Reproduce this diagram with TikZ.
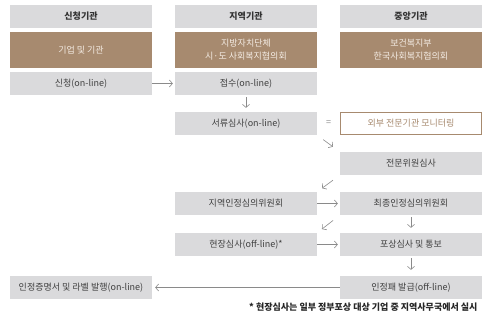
\documentclass[tikz,border=0pt]{standalone}
\usepackage{fontspec}
\setmainfont{Noto Sans CJK KR}
\usepackage{tikz}
\usetikzlibrary{arrows.meta}

\definecolor{boxgray}{HTML}{DADADC}
\definecolor{brownfill}{HTML}{A78A6F}
\definecolor{brownfg}{HTML}{F4ECE4}
\definecolor{textgray}{HTML}{404040}
\definecolor{arrowgray}{HTML}{8A8A8A}

\begin{document}
\begin{tikzpicture}[x=1pt,y=-1pt,
  font=\fontsize{9}{13}\selectfont,
  box/.style={fill=boxgray,minimum width=142pt,minimum height=23pt,inner sep=0pt,text=textgray},
  headbox/.style={box,font=\fontsize{9}{13}\selectfont\bfseries,text=black!80},
  brownbox/.style={fill=brownfill,minimum width=142pt,minimum height=36pt,inner sep=0pt,text=brownfg,align=center},
  outlinebox/.style={draw=brownfill,line width=0.8pt,fill=white,minimum width=141pt,minimum height=22pt,inner sep=0pt,text=brownfill},
  >={Straight Barb[length=3pt,width=7pt]},
  arr/.style={->,draw=arrowgray,line width=0.6pt}]
  \useasboundingbox (0,0) rectangle (482,321);

  % column heads
  \node[headbox] (h1) at (81,16.5) {신청기관};
  \node[headbox] (h2) at (246,16.5) {지역기관};
  \node[headbox] (h3) at (411,16.5) {중앙기관};
  \node[brownbox] (org1) at (81,50) {기업 및 기관};
  \node[brownbox] (org2) at (246,50) {지방자치단체\\시·도 사회복지협의회};
  \node[brownbox] (org3) at (411,50) {보건복지부\\한국사회복지협의회};

  % steps
  \node[box] (apply) at (81,83.5) {신청(on-line)};
  \node[box] (receive) at (246,83.5) {접수(on-line)};
  \node[box] (docs) at (246,123.5) {서류심사(on-line)};
  \node[text=arrowgray] (eq) at (328.5,123.5) {=};
  \node[outlinebox] (monitor) at (411,123.5) {외부 전문기관 모니터링};
  \node[box] (expert) at (411,163.5) {전문위원심사};
  \node[box] (local) at (246,203.5) {지역인정심의위원회};
  \node[box] (final) at (411,203.5) {최종인정심의위원회};
  \node[box] (site) at (246,244.5) {현장심사(off-line)*};
  \node[box] (award) at (411,244.5) {포상심사 및 통보};
  \node[box] (cert) at (81,287.5) {인정증명서 및 라벨 발행(on-line)};
  \node[box] (plaque) at (411,287.5) {인정패 발급(off-line)};

  \node[anchor=east,font=\fontsize{9}{13}\selectfont\bfseries,text=black!85] (note) at (481,307) {* 현장심사는 일부 정부포상 대상 기업 중 지역사무국에서 실시};

  \draw[arr,shorten >=2pt] (apply) -- (receive);
  \draw[arr,shorten <=2pt,shorten >=4pt] (receive) -- (docs);
  \draw[arr,shorten <=7.5pt,shorten >=8.5pt] (docs.south east) -- (expert.north west);
  \draw[arr,shorten <=8.5pt,shorten >=6pt] (expert.south west) -- (local.north east);
  \draw[arr,shorten >=2pt] (local) -- (final);
  \draw[arr,shorten <=8.5pt,shorten >=6pt] (final.south west) -- (site.north east);
  \draw[arr,shorten <=2pt,shorten >=5pt] (final) -- (award);
  \draw[arr,shorten >=2pt] (site) -- (award);
  \draw[arr,shorten <=2pt,shorten >=6pt] (award) -- (plaque);
  \draw[arr,shorten >=3pt] (plaque) -- (cert);
\end{tikzpicture}
\end{document}
